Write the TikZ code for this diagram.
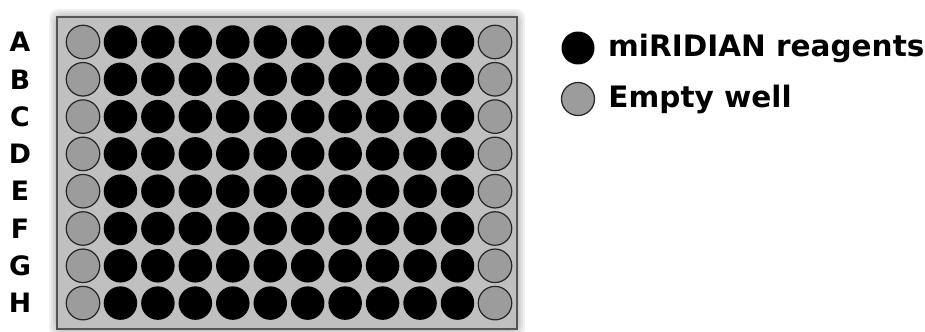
\documentclass[tikz,border=0pt]{standalone}
\usepackage{fontspec}
\setmainfont{DejaVu Sans}
\usetikzlibrary{positioning}
\definecolor{plategray}{HTML}{C0C0C0}
\definecolor{emptygray}{HTML}{9C9C9C}
\definecolor{rimgray}{HTML}{555555}
\tikzset{
  well/.style={circle, minimum size=0.67cm, inner sep=0pt},
  fullwell/.style={well, fill=black},
  emptywell/.style={well, fill=emptygray, draw=black!85, line width=0.7pt},
  legwell/.style={circle, minimum size=0.66cm, inner sep=0pt},
  rowlbl/.style={font=\bfseries\fontsize{15.2}{16}\selectfont, inner sep=0pt},
  legtext/.style={font=\bfseries\fontsize{16.8}{17}\selectfont, inner sep=0pt, anchor=west},
}

\begin{document}
\begin{tikzpicture}[x=0.02cm, y=-0.02cm]
        \useasboundingbox (0,0) rectangle (925,331);
        % plate with soft shadow
        \foreach \s in {8,6,4,2} {
          \fill[black, opacity=0.06, rounded corners=5pt] (57-\s,17-\s) rectangle (517+\s,329+\s);
        }
        \node[draw=rimgray, fill=plategray, line width=0.8pt, minimum width=9.2cm, minimum height=6.24cm, inner sep=0pt] (plate) at (287,173) {};
        % wells
        \foreach \r/\lbl [count=\i from 0] in {1/A,2/B,3/C,4/D,5/E,6/F,7/G,8/H} {
          \node[rowlbl] (row\lbl) at (20,42+\i*37.3) {\lbl};
          \node[emptywell] (w\lbl1) at (83,42+\i*37.3) {};
          \foreach \c in {2,...,11} {
            \node[fullwell] (w\lbl\c) at (83+\c*37.45-37.45,42+\i*37.3) {};
          }
          \node[emptywell] (w\lbl12) at (495,42+\i*37.3) {};
        }
        % legend
        \node[legwell, fill=black] (legfull) at (578,48) {};
        \node[legtext, right=0.26cm of legfull] (legfulltxt) {miRIDIAN reagents};
        \node[legwell, fill=emptygray, draw=black!85, line width=0.7pt] (legempty) at (578,99) {};
        \node[legtext, right=0.26cm of legempty] (legemptytxt) {Empty well};
      \end{tikzpicture}
\end{document}
